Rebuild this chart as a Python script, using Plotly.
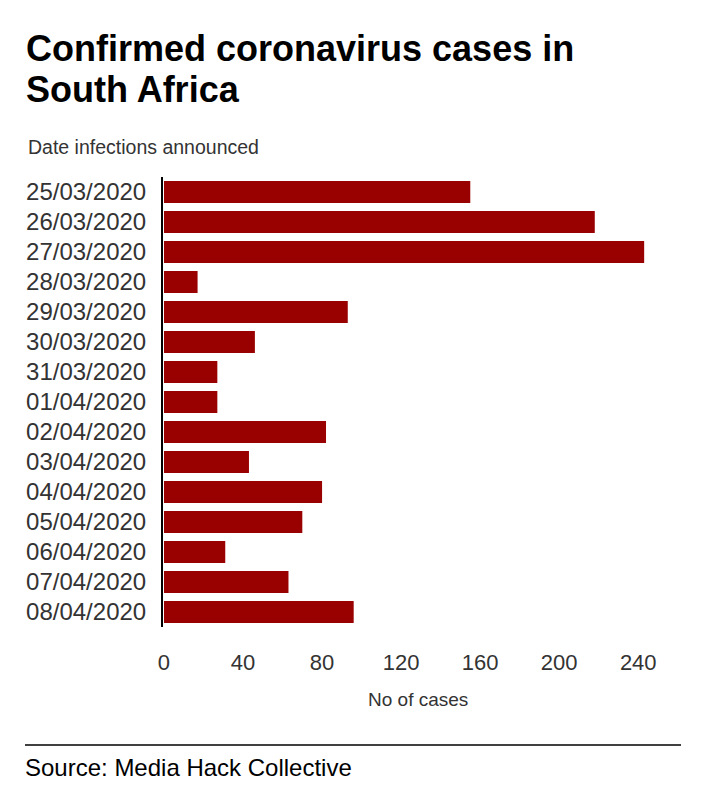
import plotly.graph_objects as go

dates = ["25/03/2020", "26/03/2020", "27/03/2020", "28/03/2020", "29/03/2020",
         "30/03/2020", "31/03/2020", "01/04/2020", "02/04/2020", "03/04/2020",
         "04/04/2020", "05/04/2020", "06/04/2020", "07/04/2020", "08/04/2020"]
cases = [155, 218, 243, 17, 93, 46, 27, 27, 82, 43, 80, 70, 31, 63, 96]
x_ticks = [0, 40, 80, 120, 160, 200, 240]

W, H = 705, 804
L, R = 163, 658   # plot area in px
T, B = 177, 627

def px(x):
    return (x - L) / (R - L)

def py(y):
    return (B - y) / (B - T)

FONT = "Liberation Sans, Arial, sans-serif"

fig = go.Figure(go.Bar(
    x=cases, y=dates, orientation="h",
    marker=dict(color="#990000", line=dict(width=0)),
))

fig.update_layout(
    width=W, height=H,
    margin=dict(l=L, r=W - R, t=T, b=H - B, pad=0),
    paper_bgcolor="white", plot_bgcolor="white",
    bargap=0.27,
    showlegend=False,
    font=dict(family=FONT, color="#333333"),
    xaxis=dict(range=[-0.5, 250], tickvals=x_ticks, showgrid=False, zeroline=False,
               showline=False, ticks="", ticklabelstandoff=20,
               tickfont=dict(size=22, color="#333333")),
    yaxis=dict(autorange="reversed", showgrid=False, zeroline=False,
               showline=True, linecolor="black", linewidth=2,
               ticks="", ticklabelstandoff=10,
               tickfont=dict(size=24, color="#333333")),
    annotations=[
        dict(text="<b>Confirmed coronavirus cases in</b>", x=px(24), y=py(48),
             xref="paper", yref="paper", xanchor="left", yanchor="middle",
             showarrow=False, font=dict(size=36, color="black", family=FONT)),
        dict(text="<b>South Africa</b>", x=px(24), y=py(90),
             xref="paper", yref="paper", xanchor="left", yanchor="middle",
             showarrow=False, font=dict(size=36, color="black", family=FONT)),
        dict(text="Date infections announced", x=px(26), y=py(147),
             xref="paper", yref="paper", xanchor="left", yanchor="middle",
             showarrow=False, font=dict(size=19.5, color="#333333", family=FONT)),
        dict(text="No of cases", x=px(418), y=py(699),
             xref="paper", yref="paper", xanchor="center", yanchor="middle",
             showarrow=False, font=dict(size=19, color="#333333", family=FONT)),
        dict(text="Source: Media Hack Collective", x=px(23), y=py(767),
             xref="paper", yref="paper", xanchor="left", yanchor="middle",
             showarrow=False, font=dict(size=24, color="black", family=FONT)),
    ],
    shapes=[
        dict(type="line", xref="paper", yref="paper",
             x0=px(25), x1=px(681), y0=py(745), y1=py(745),
             line=dict(color="black", width=1.5)),
    ],
)

fig.write_html("out.html")
